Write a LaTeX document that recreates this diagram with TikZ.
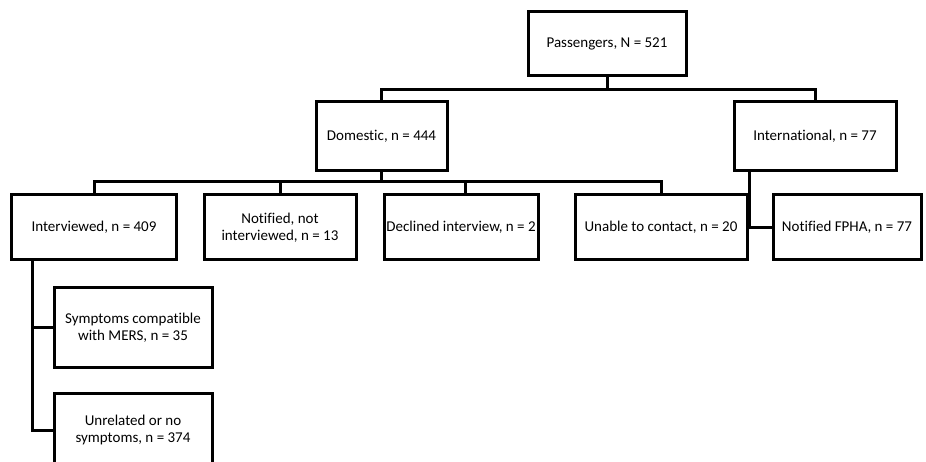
\documentclass[tikz,border=0pt]{standalone}
\usepackage{fontspec}
\setmainfont[Ligatures={NoCommon}]{Carlito}
\begin{document}
\begin{tikzpicture}[x=1pt,y=-1pt,
  box/.style={draw,line width=3pt,align=center,inner sep=2pt,font=\fontsize{15}{17}\selectfont},
  conn/.style={line width=3pt}]
\useasboundingbox (0,0) rectangle (926,462);
\node[box,minimum width=158pt,minimum height=64pt] (pass) at (607,44) {Passengers, N = 521};
\node[box,minimum width=131pt,minimum height=69pt] (dom) at (381.5,136.5) {Domestic, n = 444};
\node[box,minimum width=162pt,minimum height=69pt] (intl) at (815,136.5) {International, n = 77};
\node[box,minimum width=165pt,minimum height=65pt] (int) at (94,227.5) {Interviewed, n = 409};
\node[box,minimum width=152pt,minimum height=65pt] (notint) at (280,227.5) {Notified, not\\interviewed, n = 13};
\node[box,minimum width=154pt,minimum height=65pt] (decl) at (461,227.5) {Declined interview, n = 2};
\node[box,minimum width=172pt,minimum height=65pt] (unable) at (661,227.5) {Unable to contact, n = 20};
\node[box,minimum width=148pt,minimum height=65pt] (fpha) at (847,227.5) {Notified FPHA, n = 77};
\node[box,minimum width=158pt,minimum height=79pt] (mers) at (133,327.5) {Symptoms compatible\\with MERS, n = 35};
\node[box,minimum width=158pt,minimum height=74pt] (unrel) at (133,430) {Unrelated or no\\symptoms, n = 374};
\coordinate (b1) at (607,90);
\coordinate (b2) at (381.5,182);
\coordinate (fx) at (749,0);
\coordinate (ix) at (32,0);
\draw[conn] (pass.south) -- (b1);
\draw[conn] (dom.north) |- (b1) -| (intl.north);
\draw[conn] (dom.south) -- (b2);
\draw[conn] (int.north) |- (b2) -| (unable.north);
\draw[conn] (notint.north) -- (notint.north |- b2);
\draw[conn] ([xshift=4pt]decl.north) -- ([xshift=4pt]decl.north |- b2);
\draw[conn] (intl.south -| fx) |- (fpha.west);
\draw[conn] (int.south -| ix) |- (unrel.west);
\draw[conn] (int.south -| ix) |- (mers.west);
\end{tikzpicture}
\end{document}
